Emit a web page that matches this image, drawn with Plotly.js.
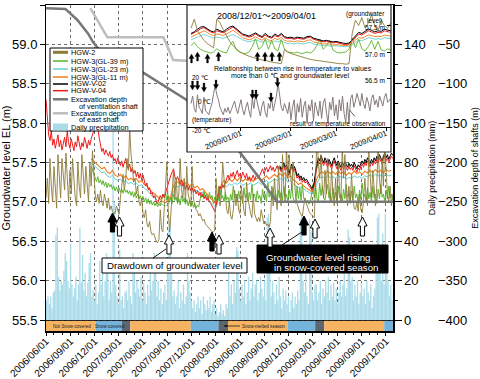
<!DOCTYPE html>
<html><head><meta charset="utf-8">
<script src="https://cdn.plot.ly/plotly-3.0.1.min.js"></script>
<style>html,body{margin:0;padding:0;background:#fff}#chart{width:480px;height:379px}</style>
</head><body><div id="chart"></div>
<script>
// ================= DATA =================
// Main chart: 5-day sampling grid starting 2006-06-01
const mainStart = '2006-06-01';
const mainStepDays = 5;
// Daily precipitation (mm), peak value seen in each 5-day column
const precipitation = [10,12,8,12,6,14,15,43,47,22,15,20,
 18,25,34,30,20,16, 39, 18,12,16,22,10,18, 47, 19,33,15,24,12,19, 29,34,12, 15,10,18,8,14,
 30,18,24,12,20, 34,32, 10,20,14,100,60,18,12, 8,36,10,12,6,14, 15,10,20,12,8,34,28,14,
 20,16,12,22,10, 19,14,8,18,12, 27,15,20,34,30,12, 20,10,16,8,14, 18,10,24,46,51,30,12,
 15,8,12,20,6,14,10,18,8,12, 34,20,14,10,6, 10,4,8,12,6,10,3, 12,8,5,10,6,12,4,8,
 10,3,6,2,4,8, 3,5,2,8,6, 25,12,18,8,20,14, 37,35,16,10, 18,12,20,8,14,22,10,16,
 24,12,18,20,10,14,22, 16,12,20,10,52,54,30,12, 20,14,8,18,10,22,12,6,16,10,
 15,8,12,4,10,14,6,12,8,15, 10,51,54,20,14, 36,12,8,51,45,14,10,18, 18,10,14,20,8,16,12,
 20,14,22,10,18,12, 19,10,16,8,14,20,12,18, 25,12,16,46,42,20, 22,10,18,12,20,8,14,
 19,12,16,8,20,14,10,18,6,12,16, 38,52,54,30,20,44,18, 54,30,20,12,18,10,14];
// HGW-2 groundwater level (m)
const hgw2 = [57.05,57.3,56.98,57.55,57.2,57.0,57.45,57.1,56.92,57.6,
 57.25,57.05,57.55,57.3,57.15,57.62,57.2,57.0,57.4,57.1,
 57.55,57.25,57.05,56.95,57.5,57.2,57.05,57.6,57.3,57.1,
 57.45,57.15,57.0,57.5,57.2,57.65,57.3,57.1,57.0,
 57.1,56.98,57.15,57.0,56.95,57.1,56.98,56.92,57.05,56.9,56.95,
 56.88,56.86,56.85,56.95,56.9,56.84,57.05,57.2,57.35,57.15,
 57.3,57.55,57.4,57.95,57.6,57.45,57.25,57.3,57.1,57.2,
 57.0,56.95,57.05,56.85,56.8,56.9,56.72,56.68,56.75,56.62,
 56.58,56.6,56.54,56.5,56.48,56.52,56.9,56.65,56.62,56.95,
 57.2,57.5,56.9,56.62,56.85,57.15,57.4,57.05,57.3,57.0,
 57.1,57.55,57.15,57.05,57.3,57.0,57.45,57.1,57.0,56.95,
 57.45,57.05,56.95,56.9,56.88,56.82,56.85,56.8,56.76,56.78,
 56.72,56.7,56.68,56.66,56.63,56.62,56.62,56.64,57.3,57.0,
 57.2,56.95,57.1,57.5,57.3,57.05,56.9,56.85,57.0,56.82,
 56.78,56.9,57.15,56.95,57.1,56.9,56.85,57.2,57.0,56.88,
 56.82,57.25,57.05,56.92,56.85,56.8,57.1,56.85,56.78,56.75,
 56.8,56.75,56.9,56.78,56.72,56.75,56.7,56.72,56.68,56.75,
 57.2,56.95,57.3,57.05,56.9,57.45,57.1,56.95,57.6,57.2,
 57.0,57.7,57.3,57.6,57.3,57.15,57.5,57.2,57.05,56.98,
 56.92,56.87,56.84,56.82,56.95,57.05,56.98,56.92,56.88,56.85,
 56.84,56.82,56.8,57.5,57.85,57.5,57.3,57.6,57.2,57.05,
 57.4,57.1,57.55,57.2,57.0,57.45,57.1,56.95,57.3,57.0,
 57.5,57.15,57.0,57.7,57.3,57.6,57.1,56.95,57.2,56.98,
 57.35,57.05,56.92,56.9,57.0,56.88,57.1,56.9,56.86,57.0,
 57.3,57.05,56.95,57.65,57.25,57.05,57.4,57.1,56.95,57.2,
 57.75,57.3,57.1,57.55,57.2,57.75,57.3,57.1,57.0,57.2,
 56.95,57.1];
// HGW-V-04 groundwater level (m)
const hgwV04 = [58.30,58.02,57.85,57.78,57.9,57.72,57.8,57.68,57.75,57.85,
 57.7,57.78,57.66,57.74,57.82,57.7,57.9,57.75,57.68,57.8,
 57.72,57.65,57.76,57.7,57.84,57.72,57.66,57.75,57.7,57.82,
 57.74,57.68,57.78,57.72,57.8,57.86,57.92,57.96,57.9,57.94,
 57.82,57.7,57.64,57.68,57.6,57.66,57.62,57.58,57.64,57.56,
 57.6,57.52,57.55,57.48,57.56,57.5,57.46,57.52,57.44,57.5,
 57.55,57.46,57.42,57.48,57.38,57.44,57.36,57.4,57.32,57.38,
 57.3,57.36,57.28,57.34,57.25,57.2,57.24,57.15,57.18,57.1,
 57.12,57.05,57.08,57.0,56.98,57.02,57.08,57.04,57.1,57.06,
 57.12,57.18,57.25,57.3,57.34,57.38,57.42,57.32,57.28,57.32,
 57.26,57.22,57.28,57.2,57.24,57.16,57.22,57.15,57.2,57.14,
 57.18,57.12,57.16,57.1,57.14,57.08,57.12,57.06,57.1,57.04,
 57.08,57.02,57.05,57.0,56.98,56.94,56.92,56.88,56.95,57.05,
 57.15,57.2,57.16,57.22,57.18,57.25,57.3,57.34,57.28,57.36,
 57.32,57.38,57.3,57.35,57.4,57.32,57.36,57.3,57.38,57.34,
 57.3,57.36,57.28,57.32,57.26,57.3,57.34,57.28,57.32,57.36,
 57.3,57.34,57.38,57.42,57.36,57.4,57.44,57.38,57.42,57.46,
 57.4,57.44,57.38,57.42,57.46,57.4,57.44,57.38,57.42,57.46,
 57.4,57.44,57.38,57.34,57.4,57.44,57.38,57.42,57.36,57.3,
 57.33,57.27,57.3,57.25,57.28,57.24,57.26,57.22,57.2,57.18,
 57.15,57.16,57.22,57.35,57.45,57.52,57.48,57.55,57.5,57.46,
 57.52,57.48,57.44,57.5,57.46,57.42,57.48,57.52,57.46,57.42,
 57.48,57.44,57.4,57.46,57.42,57.47,57.43,57.4,57.45,57.41,
 57.44,57.4,57.46,57.42,57.38,57.43,57.4,57.45,57.48,57.44,
 57.5,57.46,57.52,57.48,57.45,57.5,57.46,57.52,57.48,57.54,
 57.5,57.56,57.52,57.48,57.54,57.58,57.52,57.56,57.5,57.54,
 57.58,57.55];
// HGW-V-02 (m), 5-day grid starting 2008-10-28
const hgwV02Start = '2008-10-28';
const hgwV02 = [57.46,57.41,57.45,57.5,57.44,57.47,57.42,57.37,57.43,57.48,
 57.41,57.45,57.4,57.33,57.36,57.3,57.33,57.28,57.31,57.27,
 57.29,57.25,57.23,57.21,57.17,57.19,57.26,57.4,57.5,57.56,
 57.52,57.59,57.54,57.5,57.56,57.52,57.48,57.54,57.5,57.46,
 57.52,57.56,57.5,57.46,57.52,57.48,57.44,57.5,57.46,57.51,
 57.47,57.44,57.49,57.45,57.48,57.44,57.5,57.46,57.42,57.47,
 57.44,57.49,57.52,57.48,57.54,57.5,57.56,57.52,57.49,57.54,
 57.5,57.56,57.52,57.58,57.54,57.6,57.56,57.52,57.58,57.62,
 57.56,57.6,57.54,57.58,57.62,57.59];
// HGW-3 borehole, starting 2006-11-18
const hgw3Start = '2006-11-18';
const gl39StepDays = 5;
const hgw3GL39 = [57.45,57.4,57.35,57.3,57.26,57.32,57.24,57.28,57.22,57.27,
 57.2,57.25,57.18,57.24,57.19,57.22,57.16,57.2,57.14,57.19,
 57.13,57.18,57.12,57.16,57.11,57.17,57.12,57.15,57.1,57.14,
 57.08,57.13,57.06,57.12,57.05,57.1,57.04,57.08,57.02,57.07,
 57.0,57.05,56.98,57.04,56.97,57.02,56.96,57.0,56.95,56.99,
 56.94,56.98,56.95,57.02,57.1,57.05,57.12,57.02,57.08,57.0,
 57.06,56.98,57.1,57.02,57.06,56.98,57.04,56.96,57.08,57.0,
 57.05,56.97,57.03,56.95,57.02,56.94,57.0,56.93,56.98,56.92,
 56.96,56.94,57.05,57.12,57.06,57.14,57.05,57.1,57.02,57.12,
 57.04,57.08,56.98,57.06,57.0,57.1,57.02,57.15,57.04,57.08,
 57.0,57.12,57.03,57.06,56.98,57.1,57.02,57.2,57.05,57.1,
 57.0,57.14,57.04,57.08,56.98,57.18,57.05,57.1,57.0,57.12,
 57.03,57.22,57.06,57.1,57.0,57.14,57.04,57.08,56.98,57.16,
 57.05,57.1,57.0,57.24,57.06,57.12,57.02,57.18,57.04,57.1,
 56.98,57.15,57.05,57.12,57.02,57.2,57.06,57.1,57.0,57.16,
 57.04,57.22,57.05,57.0,56.98,57.2,57.04,57.18,57.02,57.22,
 57.05,57.0,56.98,57.02,56.97,57.0,57.1,57.22,57.05,57.2,
 57.04,57.0,57.24,57.08,57.2,57.05,57.02,57.15,57.22,57.05,
 57.1,57.0,57.18,57.04,57.12,56.98,57.2,57.05,57.1,57.0,
 57.16,57.04,57.22,57.06,57.1,57.0,57.14,57.02,57.2,57.05,
 57.1,56.98,57.15,57.04,57.24,57.06,57.1,57.0,57.18,57.04,
 57.12,57.0,57.2,57.05,57.1,56.98,57.16,57.04,57.22,57.06,
 57.1,57.0,57.15,57.04,57.2,57.05,57.1,57.02];
const gl23StepDays = 10;
const hgw3GL23 = [57.5,57.47,57.43,57.4,57.37,57.38,57.33,57.31,57.34,57.29,
 57.27,57.29,57.25,57.27,57.23,57.25,57.22,57.24,57.2,57.22,
 57.17,57.15,57.11,57.07,57.05,57.01,56.98,56.96,56.95,56.97,
 57.02,57.13,57.2,57.19,57.22,57.17,57.2,57.15,57.18,57.13,
 57.15,57.1,57.12,57.07,57.03,56.99,56.96,56.93,57.04,57.16,
 57.21,57.19,57.23,57.21,57.24,57.22,57.25,57.21,57.23,57.22,
 57.24,57.21,57.23,57.25,57.22,57.24,57.27,57.24,57.26,57.29,
 57.27,57.3,57.28,57.31,57.25,57.27,57.23,57.21,57.18,57.19,
 57.16,57.14,57.12,57.1,57.15,57.24,57.3,57.32,57.3,57.33,
 57.31,57.32,57.3,57.33,57.31,57.32,57.29,57.31,57.3,57.33,
 57.31,57.32,57.3,57.33,57.32,57.34,57.32,57.35,57.33,57.34,
 57.32,57.35,57.33,57.34];
const gl11StepDays = 10;
const hgw3GL11 = [57.55,57.52,57.48,57.45,57.42,57.44,57.38,57.36,57.4,57.34,
 57.32,57.35,57.3,57.33,57.28,57.3,57.27,57.3,57.25,57.27,
 57.22,57.2,57.16,57.12,57.1,57.06,57.03,57.0,56.99,57.02,
 57.08,57.2,57.26,57.24,57.28,57.22,57.25,57.2,57.23,57.18,
 57.2,57.15,57.17,57.12,57.08,57.04,57.0,56.97,57.1,57.22,
 57.27,57.24,57.29,57.26,57.3,57.27,57.31,57.26,57.29,57.27,
 57.3,57.26,57.29,57.31,57.27,57.3,57.33,57.29,57.32,57.35,
 57.32,57.36,57.33,57.37,57.3,57.33,57.28,57.26,57.22,57.24,
 57.2,57.18,57.15,57.13,57.2,57.3,57.36,57.38,57.35,57.39,
 57.36,57.38,57.35,57.39,57.36,57.38,57.34,57.37,57.35,57.39,
 57.36,57.38,57.35,57.39,57.37,57.4,57.37,57.41,57.38,57.4,
 57.37,57.41,57.39,57.4];
// Excavation depth of shafts (m)
const ventDates = ['2006-06-01','2006-08-13','2006-09-27','2006-11-06','2006-11-25','2007-01-18','2007-03-05','2007-06-02','2007-11-14','2008-02-01','2008-05-24','2008-10-18','2009-12-28'];
const ventDepth = [-4,-5,-19,-36,-47,-70,-72,-86,-121,-150,-184,-250,-250];
const eastDates = ['2006-11-15','2006-12-11','2007-01-18','2007-08-17','2007-09-23','2008-01-15'];
const eastDepth = [-4,-19,-41,-41,-70,-72];
// Snow-cover seasons shown in the band under the chart
const seasonStart = ['2006-06-01','2006-12-06','2007-03-14','2007-04-14','2007-11-28','2008-03-11','2008-04-16','2008-11-26','2009-03-10','2009-04-13','2009-11-25'];
const seasonEnd   = ['2006-12-06','2007-03-14','2007-04-14','2007-11-28','2008-03-11','2008-04-16','2008-11-26','2009-03-10','2009-04-13','2009-11-25','2009-12-28'];
const seasonType  = ['not','snow','melt','not','snow','melt','not','snow','melt','not','snow'];
// Inset 2008/12/01 - 2009/04/01, 2-day grid
const insetStart = '2008-12-01';
const insetStepDays = 2;
const insHGW2 = [57.45,57.62,57.4,57.3,57.22,57.16,57.12,57.08,57.62,57.55,
 57.42,57.3,57.2,57.12,57.06,57.01,56.97,56.94,56.92,56.9,
 56.88,56.86,56.85,56.84,56.82,56.81,56.8,56.79,56.78,57.05,
 57.0,56.97,56.95,56.93,56.91,56.89,56.87,56.86,56.85,56.84,
 56.83,56.82,56.81,56.8,56.8,56.79,56.78,56.78,56.77,56.78,
 57.35,57.6,57.5,57.65,57.45,57.55,57.7,57.5,57.4,57.6,
 57.5,57.45,57.55];
const insGL39 = [57.12,57.18,57.1,57.05,57.02,57.0,56.98,57.0,57.06,57.02,
 57.0,56.98,57.12,57.2,57.05,57.0,56.98,56.97,57.0,57.1,
 57.25,57.05,57.1,57.25,57.05,57.22,57.06,57.02,57.24,57.05,
 57.0,56.99,56.98,57.0,56.97,56.98,57.0,56.98,57.02,57.12,
 57.24,57.05,57.12,57.22,57.04,57.0,56.98,56.99,57.0,57.05,
 57.26,57.08,57.24,57.06,57.02,57.1,57.22,57.05,57.2,57.04,
 57.02,57.06,57.04];
const insGL23 = [57.23,57.25,57.28,57.31,57.33,57.31,57.28,57.26,57.28,57.27,
 57.26,57.28,57.31,57.33,57.3,57.26,57.23,57.21,57.19,57.21,
 57.23,57.21,57.18,57.22,57.19,57.17,57.21,57.19,57.22,57.18,
 57.16,57.17,57.15,57.17,57.16,57.15,57.17,57.18,57.15,57.14,
 57.13,57.12,57.13,57.11,57.11,57.12,57.11,57.1,57.1,57.11,
 57.13,57.18,57.22,57.21,57.24,57.27,57.26,57.24,57.25,57.24,
 57.27,57.26,57.25];
const insGL11 = [57.28,57.31,57.35,57.38,57.4,57.37,57.33,57.31,57.34,57.33,
 57.31,57.34,57.38,57.41,57.37,57.31,57.27,57.25,57.23,57.25,
 57.29,57.25,57.22,57.27,57.23,57.21,57.26,57.23,57.28,57.22,
 57.2,57.21,57.19,57.21,57.2,57.19,57.22,57.23,57.19,57.18,
 57.16,57.15,57.16,57.14,57.13,57.14,57.13,57.12,57.12,57.13,
 57.16,57.22,57.27,57.26,57.29,57.32,57.31,57.29,57.3,57.29,
 57.32,57.31,57.3];
const insV02 = [57.35,57.38,57.43,57.47,57.48,57.44,57.4,57.38,57.43,57.4,
 57.38,57.43,57.47,57.49,57.44,57.38,57.34,57.32,57.3,57.33,
 57.36,57.32,57.29,57.35,57.3,57.28,57.34,57.3,57.35,57.29,
 57.27,57.28,57.26,57.28,57.27,57.26,57.29,57.3,57.26,57.24,
 57.22,57.21,57.22,57.2,57.19,57.2,57.18,57.17,57.16,57.17,
 57.23,57.31,57.37,57.35,57.39,57.43,57.41,57.38,57.4,57.39,
 57.43,57.41,57.4];
const insV04 = [57.33,57.36,57.4,57.44,57.46,57.42,57.38,57.36,57.4,57.38,
 57.36,57.4,57.44,57.47,57.42,57.36,57.32,57.3,57.28,57.3,
 57.34,57.3,57.27,57.32,57.28,57.26,57.31,57.28,57.33,57.27,
 57.25,57.26,57.24,57.26,57.25,57.24,57.27,57.28,57.24,57.22,
 57.2,57.19,57.2,57.18,57.17,57.18,57.16,57.15,57.14,57.15,
 57.2,57.28,57.34,57.32,57.36,57.4,57.38,57.35,57.37,57.36,
 57.4,57.38,57.37];
// Inset temperature (deg C), daily from 2008-12-01
const tempStepDays = 1;
const temperature = [-2,4,-6,-9,5,-5,-7,-10,3,-8,-9,-11,-6,-2,6,
 12,5,1,-5,-8,-11,-6,-9,-5,-10,-7,-3,0,-6,-10,
 -4,1,-7,-11,-5,-1,-8,-13,2,-6,5,-1,-7,-12,-4,0,-9,-13,-2,-6,3,-8,-2,4,14,3,-5,-8,-2,-6,
 -10,-1,-15,-5,1,-17,-2,-9,2,-13,-4,0,-18,-3,-8,1,-16,-1,-6,-12,0,-14,-2,2,-9,-18,-1,-7,3,-12,-3,-15,1,-8,4,-10,-17,-1,-18,2,
 5,-5,0,6,1,-4,6,-2,-6,3,-1,-8,2,5,-3,1,-5,4,0,-4,3,6,-1,1,2];
// Tick labels
const mainTickFormat = '%Y/%m/%d';
const insetTickVals = ['2009-01-01','2009-02-01','2009-03-01','2009-04-01'];
const insetTickText = ['2009/01/01','2009/02/01','2009/03/01','2009/04/01'];
const seriesNames = ['HGW-2','HGW-3(GL-39 m)','HGW-3(GL-23 m)','HGW-3(GL-11 m)','HGW-V-02','HGW-V-04'];

// ================= STYLE / HELPERS =================
const C = {hgw2:'#8c7c38', gl39:'#5ab52a', gl23:'#62cfcf', gl11:'#f07d1a', v02:'#000000', v04:'#ee1c1c',
  vent:'#777777', east:'#bdbdbd', rain:'#a9dbe9', temp:'#857a7a',
  not:'#f6b462', snow:'#74b4da', melt:'#5c6670'};
const FONT = 'Liberation Sans, Arial, DejaVu Sans, Noto Sans CJK JP, sans-serif';
const W=480,H=379,ML=46,MR=40,MT=5,MB=48;
const PW=W-ML-MR, PH=H-MT-MB;
const fx = px => (px-ML)/PW;
const fy = py => 1-(py-MT)/PH;
function gridDates(start, step, n){
  const t0 = Date.parse(start+'T00:00:00Z'); const out=[];
  for(let i=0;i<n;i++) out.push(new Date(t0+i*step*864e5).toISOString().slice(0,10));
  return out;
}
function P(pts){ return 'M'+pts.map(p=>fx(p[0]).toFixed(5)+','+fy(p[1]).toFixed(5)).join('L')+'Z'; }
function upArrow(cx,tip,h,hh,hw,sw){ return P([[cx,tip],[cx+hw,tip+hh],[cx+sw,tip+hh],[cx+sw,tip+h],[cx-sw,tip+h],[cx-sw,tip+hh],[cx-hw,tip+hh]]); }
function downArrow(cx,tip,h,hh,hw,sw){ return P([[cx,tip],[cx+hw,tip-hh],[cx+sw,tip-hh],[cx+sw,tip-h],[cx-sw,tip-h],[cx-sw,tip-hh],[cx-hw,tip-hh]]); }
function ann(text,px,py,o){ return Object.assign({xref:'paper',yref:'paper',x:fx(px),y:fy(py),text:text,showarrow:false,
  xanchor:'left',yanchor:'middle',borderpad:0,font:{size:7.3,color:'#000',family:FONT}},o||{}); }
function rectPx(x0,y0,x1,y1,o){ return Object.assign({type:'rect',xref:'paper',yref:'paper',x0:fx(x0),x1:fx(x1),y0:fy(y1),y1:fy(y0),layer:'above'},o||{}); }
function linePx(x0,y0,x1,y1,color,w){ return {type:'line',xref:'paper',yref:'paper',x0:fx(x0),y0:fy(y0),x1:fx(x1),y1:fy(y1),layer:'above',line:{color:color,width:w}}; }
const F = (s,c)=>({size:s,color:c||'#000',family:FONT});

// ================= TRACES =================
const traces = [];
traces.push({type:'bar', x:gridDates(mainStart, mainStepDays, precipitation.length), y:precipitation,
  width:mainStepDays*864e5, offset:0, marker:{color:C.rain, line:{width:0}}, yaxis:'y', xaxis:'x', hoverinfo:'skip'});
function ln(x,y,color,w,xa,ya){ return {type:'scatter',mode:'lines',x:x,y:y,line:{color:color,width:w},xaxis:xa,yaxis:ya,hoverinfo:'skip'}; }
traces.push(ln(gridDates(hgw3Start,gl23StepDays,hgw3GL23.length), hgw3GL23, C.gl23, 1, 'x','y2'));
traces.push(ln(gridDates(hgw3Start,gl39StepDays,hgw3GL39.length), hgw3GL39, C.gl39, 1, 'x','y2'));
traces.push(ln(gridDates(hgw3Start,gl11StepDays,hgw3GL11.length), hgw3GL11, C.gl11, 1.1, 'x','y2'));
traces.push(ln(gridDates(mainStart,mainStepDays,hgwV04.length), hgwV04, C.v04, 1, 'x','y2'));
traces.push(ln(gridDates(hgwV02Start,mainStepDays,hgwV02.length), hgwV02, C.v02, 1, 'x','y2'));
traces.push(ln(gridDates(mainStart,mainStepDays,hgw2.length), hgw2, C.hgw2, 0.9, 'x','y2'));
traces.push(ln(eastDates, eastDepth, C.east, 2.5, 'x','y3'));
traces.push(ln(ventDates, ventDepth, C.vent, 2.5, 'x','y3'));
// inset
traces.push(ln(gridDates(insetStart,insetStepDays,insGL23.length), insGL23, C.gl23, 0.9, 'x2','y4'));
traces.push(ln(gridDates(insetStart,insetStepDays,insGL11.length), insGL11, C.gl11, 0.9, 'x2','y4'));
traces.push(ln(gridDates(insetStart,insetStepDays,insGL39.length), insGL39, C.gl39, 0.9, 'x2','y4'));
traces.push(ln(gridDates(insetStart,insetStepDays,insV04.length), insV04, C.v04, 1, 'x2','y4'));
traces.push(ln(gridDates(insetStart,insetStepDays,insV02.length), insV02, C.v02, 1, 'x2','y4'));
traces.push(ln(gridDates(insetStart,insetStepDays,insHGW2.length), insHGW2, C.hgw2, 0.9, 'x2','y4'));
traces.push(ln(gridDates(insetStart,tempStepDays,temperature.length), temperature, C.temp, 1, 'x2','y5'));

// ================= SHAPES =================
const shapes = [];
const bandTop = fy(320.5);
for(let i=0;i<seasonStart.length;i++){
  shapes.push({type:'rect',xref:'x',yref:'paper',x0:seasonStart[i],x1:seasonEnd[i],y0:0,y1:bandTop,layer:'above',
    fillcolor:C[seasonType[i]],line:{width:0}});
}
shapes.push({type:'line',xref:'paper',yref:'paper',x0:0,x1:fx(393),y0:bandTop,y1:bandTop,layer:'above',line:{color:'#000',width:0.8}});
// legend box
shapes.push(rectPx(50,48,143,131,{fillcolor:'#fff',line:{color:'#000',width:1}}));
const legRows = [[52.3,C.hgw2,3],[61,C.gl39,1.5],[69,C.gl23,1.5],[77,C.gl11,1.5],[84,C.v02,1.5],[90.7,C.v04,1.5],[99.3,C.vent,2.5],[113.3,C.east,2.5]];
legRows.forEach(r=>shapes.push(linePx(53,r[0],68,r[0],r[1],r[2])));
shapes.push(rectPx(53,123.5,68,130.5,{fillcolor:C.rain,line:{width:0}}));
// annotation boxes
shapes.push(rectPx(102,258,247,273,{fillcolor:'#fff',line:{color:'#000',width:1}}));
shapes.push(rectPx(257,245,388,273,{fillcolor:'#000',line:{color:'#000',width:1}}));
shapes.push(linePx(153,258,166,249,'#000',0.9));
shapes.push(linePx(282,245,302,232,'#000',0.9));
// main block arrows (white behind black)
[[119.5,217],[169,235],[219,235],[270,228],[315,219],[362.5,217]].forEach(a=>shapes.push({type:'path',xref:'paper',yref:'paper',layer:'above',
  path:upArrow(a[0],a[1],19,9,4.6,2.1),fillcolor:'#fff',line:{color:'#000',width:1}}));
[[112.5,213],[212,232],[304,216]].forEach(a=>shapes.push({type:'path',xref:'paper',yref:'paper',layer:'above',
  path:upArrow(a[0],a[1],19,9,4.6,2.1),fillcolor:'#000',line:{color:'#000',width:1}}));
// inset border
shapes.push(rectPx(187,5,391,152,{fillcolor:'rgba(0,0,0,0)',line:{color:'#222',width:1.2}}));
// inset small arrows
[[191.5,54],[197.5,52],[207.5,54],[218.5,52],[257.5,52],[265,52],[272,52],[279.5,52]].forEach(a=>shapes.push({type:'path',xref:'paper',yref:'paper',layer:'above',
  path:upArrow(a[0],a[1],9,4.5,2.6,0.9),fillcolor:'#000',line:{color:'#000',width:0.3}}));
[[192.5,90],[197.5,90],[204,92],[216,89],[252.5,99],[256,99],[271,102],[277.5,87]].forEach(a=>shapes.push({type:'path',xref:'paper',yref:'paper',layer:'above',
  path:downArrow(a[0],a[1],9,4.5,2.6,0.9),fillcolor:'#000',line:{color:'#000',width:0.3}}));
shapes.push(linePx(349.5,110,355,116.5,'#000',0.6));

// ================= ANNOTATIONS =================
const annotations = [];
const legText = [[seriesNames[0],52.3],[seriesNames[1],61],[seriesNames[2],69],[seriesNames[3],77],[seriesNames[4],84],[seriesNames[5],90.7],
  ['Excavation depth',99.3],['Excavation depth',113.3],['Daily precipitation',127]];
legText.forEach(t=>annotations.push(ann(t[0],69.5,t[1])));
annotations.push(ann('of ventilation shaft',77.5,106));
annotations.push(ann('of east shaft',77.5,119.8));
// main notes
annotations.push(ann('Drawdown of groundwater level',174.5,265.7,{xanchor:'center',font:F(9.7)}));
annotations.push(ann('Groundwater level rising',265,257,{font:F(9.7,'#fff')}));
annotations.push(ann('in snow-covered season',273,267.5,{font:F(9.7,'#fff')}));
// band labels
annotations.push(ann('Not Snow-covered',72,326,{xanchor:'center',font:F(4.6,'#222')}));
annotations.push(ann('Snow-covered',109.5,326,{xanchor:'center',font:F(4.6,'#222')}));
annotations.push({xref:'paper',yref:'paper',x:fx(224),y:fy(326),ax:39,ay:0,axref:'pixel',ayref:'pixel',text:'Snow-melted season',
  showarrow:true,arrowhead:2,arrowsize:0.7,arrowwidth:0.7,arrowcolor:'#000',standoff:0,startstandoff:1,font:F(4.6,'#222'),borderpad:0});
// inset texts
annotations.push(ann('2008/12/01～2009/04/01',266,16,{xanchor:'center',font:F(9)}));
annotations.push(ann('(groundwater',386,14.5,{xanchor:'right',font:F(6.5)}));
annotations.push(ann('level)',384,21,{xanchor:'right',font:F(6.5)}));
annotations.push(ann('57.5 m',386,27.5,{xanchor:'right',font:F(6.5)}));
annotations.push(ann('57.0 m',386,54,{xanchor:'right',font:F(6.5)}));
annotations.push(ann('56.5 m',386,80,{xanchor:'right',font:F(6.5)}));
annotations.push(ann('Relationship between rise in temperature to values',293,69,{xanchor:'center',font:F(7)}));
annotations.push(ann('more than 0 ℃ and groundwater level',290,76,{xanchor:'center',font:F(7)}));
annotations.push(ann('20 ℃',191,77,{font:F(6.5)}));
annotations.push(ann('0 ℃',197,101.5,{font:F(6.5)}));
annotations.push(ann('(temperature)',191,120,{font:F(6.5)}));
annotations.push(ann('-20 ℃',191,130,{font:F(6.5)}));
annotations.push(ann('result of temperature observation',289,124,{font:F(6.5)}));

// ================= LAYOUT =================
const layout = {
  width:W, height:H, margin:{l:ML,r:MR,t:MT,b:MB,pad:0},
  paper_bgcolor:'#fff', plot_bgcolor:'#fff', showlegend:false,
  font:{family:FONT,color:'#000',size:11},
  xaxis:{type:'date',domain:[0,fx(393)],range:['2006-06-01','2009-12-28'],anchor:'y',
    tickmode:'linear',tick0:'2006-06-01',dtick:'M3',tickformat:mainTickFormat,tickangle:-45,
    ticks:'outside',ticklen:3,tickcolor:'#000',tickwidth:1,tickfont:{size:10},ticklabelstandoff:-4,
    minor:{dtick:'M1',tick0:'2006-06-01',ticks:'outside',ticklen:2,tickcolor:'#000',showgrid:false},
    showgrid:true,gridcolor:'#6d6d6d',griddash:'dot',gridwidth:1,
    showline:true,mirror:true,linecolor:'#000',linewidth:1.5,zeroline:false,automargin:false},
  yaxis:{domain:[0,1],range:[-5.587,160],side:'right',anchor:'x',tickmode:'linear',tick0:0,dtick:20,
    ticks:'outside',ticklen:7,tickcolor:'#000',minor:{dtick:10,tick0:0,ticks:'outside',ticklen:3,tickcolor:'#000'},
    showgrid:false,zeroline:false,showline:true,mirror:true,linecolor:'#000',linewidth:1.5,tickfont:{size:13},
    title:{text:'Daily precipitation (mm)',font:{size:9},standoff:4},automargin:false},
  yaxis2:{overlaying:'y',side:'left',anchor:'x',range:[55.3603,59.5],tickmode:'linear',tick0:55.5,dtick:0.5,tickformat:'.1f',
    ticks:'outside',ticklen:5,tickcolor:'#000',showgrid:true,gridcolor:'#6d6d6d',griddash:'dot',gridwidth:1,
    zeroline:false,showline:false,tickfont:{size:13},
    title:{text:'Groundwater level EL (m)',font:{size:11},standoff:2},automargin:false},
  yaxis3:{overlaying:'y',side:'right',anchor:'free',position:fx(437),range:[-413.97,0],tickmode:'linear',tick0:0,dtick:50,
    ticks:'',showgrid:false,zeroline:false,showline:false,tickfont:{size:13},
    title:{text:'Excavation depth of shafts (m)',font:{size:9},standoff:6},automargin:false},
  xaxis2:{type:'date',domain:[fx(187),fx(391)],anchor:'free',position:fy(127),
    range:['2008-11-28 12:00','2009-04-04 02:00'],tickmode:'array',tickvals:insetTickVals,ticktext:insetTickText,
    tickangle:-22,ticks:'outside',ticklen:3,tickcolor:'#000',tickfont:{size:7.8},ticklabelstandoff:-5,showgrid:false,
    showline:true,linecolor:'#000',linewidth:1,zeroline:false,automargin:false},
  yaxis4:{domain:[fy(152),1],anchor:'x2',side:'right',range:[55.1132,57.8868],tickmode:'array',tickvals:[56.5,57,57.5],
    ticks:'inside',ticklen:4,tickcolor:'#000',showticklabels:false,showgrid:false,zeroline:false,showline:false,automargin:false},
  yaxis5:{overlaying:'y4',anchor:'x2',range:[-40.8,76.8],visible:false},
  shapes:shapes, annotations:annotations
};
Plotly.newPlot('chart', traces, layout, {displayModeBar:false, staticPlot:true});
</script></body></html>
